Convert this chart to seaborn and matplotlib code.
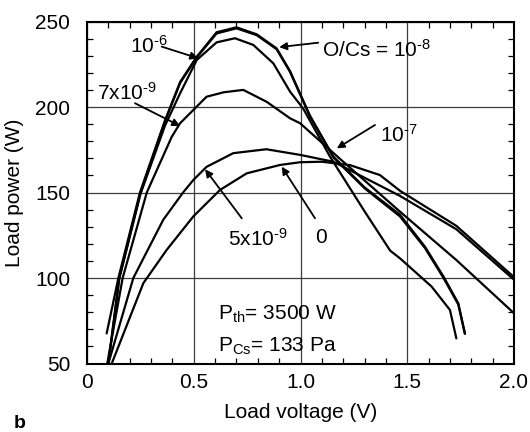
import matplotlib
matplotlib.use('Agg')
import matplotlib.pyplot as plt
import numpy as np
import pandas as pd
import seaborn as sns
from matplotlib.ticker import MultipleLocator

sns.set_theme(style='ticks')
plt.rcParams['font.family'] = ['Liberation Sans', 'DejaVu Sans']
plt.rcParams['mathtext.fontset'] = 'custom'
plt.rcParams['mathtext.rm'] = 'Liberation Sans'
plt.rcParams['mathtext.it'] = 'Liberation Sans'
plt.rcParams['mathtext.default'] = 'regular'
plt.rcParams['text.color'] = 'black'
plt.rcParams['axes.labelcolor'] = 'black'
plt.rcParams['xtick.color'] = 'black'
plt.rcParams['ytick.color'] = 'black'

# ---- data (load voltage V, load power W) ----
v_1e6 = [0.092, 0.147, 0.248, 0.365, 0.436, 0.514, 0.607, 0.700, 0.795, 0.888, 0.951, 1.044, 1.154, 1.30, 1.466, 1.583, 1.670, 1.739, 1.770]
p_1e6 = [67.6, 100, 150, 192, 214.6, 229.4, 243.7, 246.6, 242.5, 234.3, 221, 195, 171, 153, 137, 118.3, 100.8, 85.2, 67.7]

v_1e8 = [0.100, 0.150, 0.250, 0.365, 0.436, 0.514, 0.607, 0.700, 0.795, 0.888, 0.951, 1.044, 1.154, 1.30, 1.466, 1.583, 1.670, 1.739, 1.770]
p_1e8 = [50, 99.5, 149.5, 191.5, 214, 229, 243, 246, 242, 233.8, 220.5, 194.5, 170.5, 152.5, 136, 117.5, 100, 84.5, 67.3]

v_1e7 = [0.100, 0.152, 0.250, 0.365, 0.436, 0.514, 0.607, 0.693, 0.779, 0.873, 0.951, 1.013, 1.138, 1.30, 1.42, 1.466, 1.614, 1.700, 1.730]
p_1e7 = [50, 100, 149, 189, 208, 227.5, 237.8, 240.2, 236.3, 225.5, 209, 199, 171, 139, 116, 111.5, 95, 81.3, 64.7]

v_7e9 = [0.095, 0.167, 0.280, 0.397, 0.436, 0.560, 0.640, 0.732, 0.842, 0.951, 0.998, 1.200, 1.466, 1.730, 2.000]
p_7e9 = [50, 100, 150, 182.6, 190.5, 206, 208.6, 210, 203, 193.4, 190.5, 168, 138.8, 110.5, 79.4]

v_5e9 = [0.100, 0.217, 0.357, 0.450, 0.498, 0.560, 0.685, 0.840, 0.998, 1.154, 1.466, 1.730, 2.000]
p_5e9 = [50, 100, 134, 150, 157.3, 165, 173, 175.3, 172, 168, 148, 128.5, 99]

v_0 = [0.116, 0.264, 0.373, 0.498, 0.623, 0.748, 0.904, 0.998, 1.100, 1.232, 1.372, 1.466, 1.730, 2.000]
p_0 = [50, 97, 116.4, 136, 151.5, 161.2, 166.1, 167.7, 168, 166, 160.2, 151, 130.5, 100.5]

curve_names = ['1e-6', '1e-8', '1e-7', '7e-9', '5e-9', '0']
curve_v = [v_1e6, v_1e8, v_1e7, v_7e9, v_5e9, v_0]
curve_p = [p_1e6, p_1e8, p_1e7, p_7e9, p_5e9, p_0]

x_ticks = [0, 0.5, 1.0, 1.5, 2.0]
x_ticklabels = ['0', '0.5', '1.0', '1.5', '2.0']
y_ticks = [50, 100, 150, 200, 250]

frames = []
for name, vv, pp in zip(curve_names, curve_v, curve_p):
    frames.append(pd.DataFrame({'V': vv, 'P': pp, 'curve': name}))
df = pd.concat(frames, ignore_index=True)

fig = plt.figure(figsize=(5.3, 4.32), dpi=100)
ax = fig.add_axes([87/530, 1 - 363.5/432, (514-87)/530, (363.5-21.5)/432])

sns.lineplot(data=df, x='V', y='P', units='curve', estimator=None, sort=False,
             color='black', linewidth=1.6, ax=ax)

ax.set_xlim(0, 2)
ax.set_ylim(50, 250)
ax.set_xticks(x_ticks)
ax.set_xticklabels(x_ticklabels)
ax.set_yticks(y_ticks)
ax.xaxis.set_minor_locator(MultipleLocator(0.1))
ax.yaxis.set_minor_locator(MultipleLocator(10))
ax.set_axisbelow(True)
ax.grid(True, which='major', color='#3c3c3c', linewidth=0.9)
ax.tick_params(which='major', direction='in', length=0, top=True, right=True,
               labelsize=15, colors='black')
ax.tick_params(axis='x', which='major', pad=7)
ax.tick_params(axis='y', which='major', pad=12)
ax.tick_params(which='minor', direction='in', length=4, width=0.9, top=True, right=True, color='black')
for s in ax.spines.values():
    s.set_color('black')
    s.set_linewidth(1.5)

ax.set_xlabel('Load voltage (V)', fontsize=15, labelpad=8, color='black')
ax.set_ylabel('Load power (W)', fontsize=15, labelpad=8, color='black')

fs = 15
ax.text(0.201, 231.6, r'10$^{\text{-6}}$', fontsize=fs, ha='left', va='baseline')
ax.text(0.045, 204.1, r'7x10$^{\text{-9}}$', fontsize=fs, ha='left', va='baseline')
ax.text(1.099, 229.4, r'O/Cs = 10$^{\text{-8}}$', fontsize=fs, ha='left', va='baseline')
ax.text(1.372, 179.7, r'10$^{\text{-7}}$', fontsize=fs, ha='left', va='baseline')
ax.text(0.662, 118.7, r'5x10$^{\text{-9}}$', fontsize=fs, ha='left', va='baseline')
ax.text(1.068, 120.3, '0', fontsize=fs, ha='left', va='baseline')
ax.text(0.615, 75.9, r'P$_{th}$= 3500 W', fontsize=fs, ha='left', va='baseline')
ax.text(0.615, 56.9, r'P$_{Cs}$= 133 Pa', fontsize=fs, ha='left', va='baseline')

arrows = [((0.350, 235.3), (0.521, 228.5)),
          ((0.225, 202.2), (0.436, 188.9)),
          ((1.083, 237.6), (0.900, 235.0)),
          ((1.349, 189.5), (1.170, 175.8)),
          ((0.725, 134.9), (0.553, 163.6)),
          ((1.068, 134.9), (0.912, 165.1))]
for tail, head in arrows:
    ax.annotate('', xy=head, xytext=tail,
                arrowprops=dict(arrowstyle='-|>', color='black', lw=1.3,
                                mutation_scale=11, shrinkA=0, shrinkB=0))

fig.text(14/530, 1 - 428/432, 'b', fontsize=14, fontweight='bold', ha='left', va='baseline')

fig.savefig('out.png', dpi=100)
